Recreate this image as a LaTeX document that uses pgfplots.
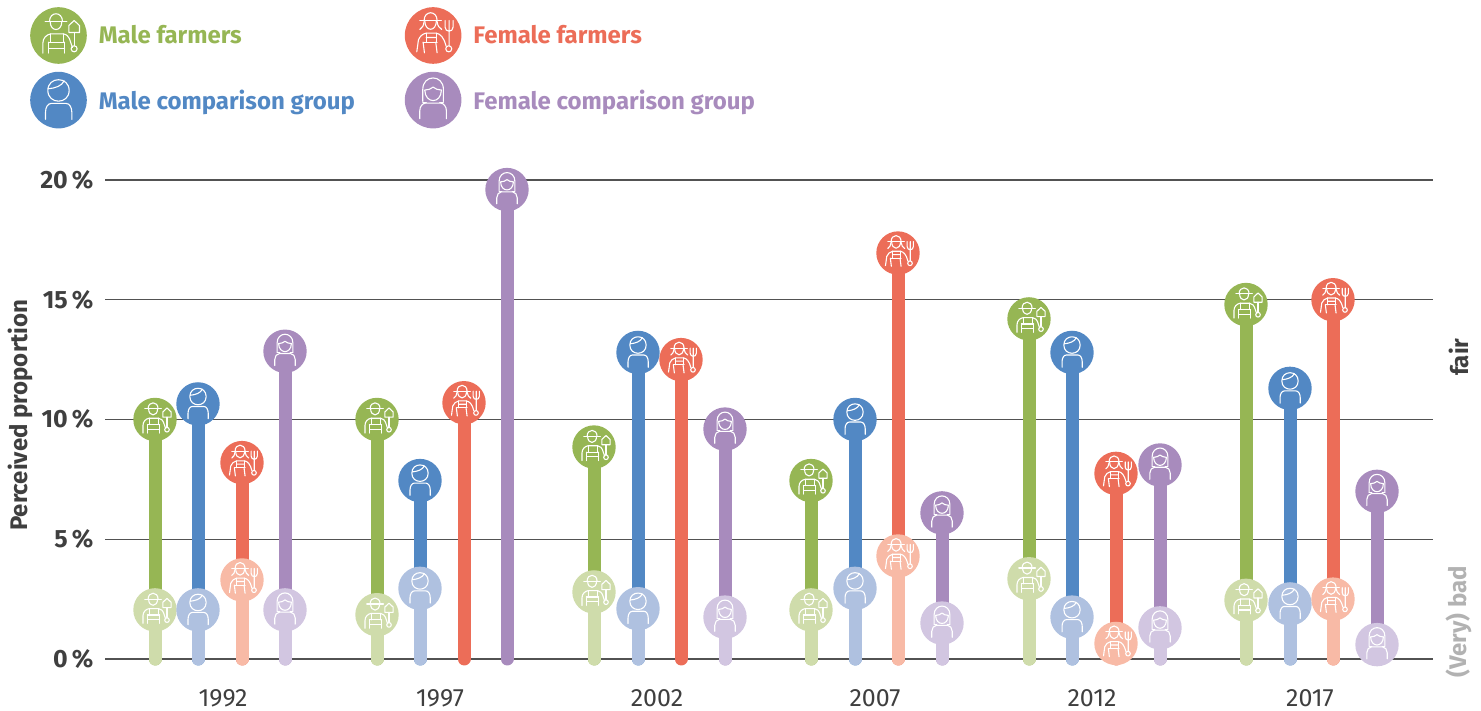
\documentclass[border=0pt]{standalone}
\usepackage{fontspec}
\setmainfont{Fira Sans}
\usepackage{pgfplots}
\pgfplotsset{compat=1.18}
\definecolor{mf}{HTML}{96B654}
\definecolor{mc}{HTML}{5288C4}
\definecolor{ff}{HTML}{EC6D58}
\definecolor{fc}{HTML}{A88BBD}
\definecolor{mfl}{HTML}{CFDCAB}
\definecolor{mcl}{HTML}{AFC1E0}
\definecolor{ffl}{HTML}{F8BAA6}
\definecolor{fcl}{HTML}{D2C6E1}
\definecolor{txt}{HTML}{3F3F3F}

% icon outlines, in units of a circle of radius 85
\newcommand{\grip}{
  \draw (38,-40) .. controls (38,-52) and (56,-52) .. (56,-40) .. controls (56,-28) and (38,-28) .. (38,-40);
}
\newcommand{\malefarmer}{
  \draw (-40,42)--(25,42);
  \draw (-27,42) .. controls (-27,73) and (12,73) .. (12,42);
  \draw (-25,42) .. controls (-25,10) and (10,10) .. (10,42);
  \draw (-47,-53)--(-47,-23) .. controls (-47,-8) and (-36,3) .. (-23,5)--(14,5) .. controls (26,3) and (30,-4) .. (33,-10) .. controls (37,-20) and (39,-30) .. (42,-36);
  \draw (-23,5)--(-23,-20) (14,5)--(14,-20) (-30,-20)--(18,-20);
  \draw (-29,-20)--(-29,-53) (18,-20)--(18,-53) (-29,-38)--(18,-38);
  \draw (47,45)--(63,30)--(63,9)--(31,9)--(31,30)--cycle;
  \draw (47,9)--(47,-30);
  \grip
}
\newcommand{\femalefarmer}{
  \draw (-40,45)--(25,45);
  \draw (-27,45) .. controls (-27,76) and (12,76) .. (12,45);
  \draw (-25,45) .. controls (-25,10) and (10,10) .. (10,45);
  \draw (-27,42) .. controls (-28,30) and (-33,22) .. (-40,18);
  \draw (12,42) .. controls (13,30) and (19,22) .. (26,18);
  \draw (-49,-49)--(-44,-13) .. controls (-40,-3) and (-32,5) .. (-21,7)--(9,7) .. controls (22,5) and (32,-5) .. (39,-32);
  \draw (-21,7)--(-21,-20) (9,7)--(9,-20) (-30,-20)--(12,-20);
  \draw (-30,-20)--(-26,-52) (8,-20)--(12,-52) (-21,-6)--(9,-6);
  \draw (36,45)--(36,25) .. controls (36,9) and (60,9) .. (60,25)--(60,45) (48,45)--(48,-30);
  \grip
}
\newcommand{\malecomp}{
  \draw (-32,29) .. controls (-32,72) and (32,72) .. (32,29) .. controls (32,-14) and (-32,-14) .. (-32,29);
  \draw (-30,34) .. controls (-10,36) and (10,42) .. (17,58);
  \draw (-39,-58)--(-39,-36) .. controls (-39,-22) and (-32,-10) .. (-22,-10)--(23,-10) .. controls (33,-10) and (40,-22) .. (40,-36)--(40,-58);
}
\newcommand{\femalecomp}{
  \draw (-31,-4)--(-31,32) .. controls (-31,78) and (31,78) .. (31,32)--(31,-4);
  \draw (-31,-6)--(-20,-6) (31,-6)--(20,-6);
  \draw (-25,30) .. controls (-15,30) and (-6,34) .. (0,39) .. controls (6,34) and (15,30) .. (25,30);
  \draw (-25,30) .. controls (-24,-12) and (24,-12) .. (25,30);
  \draw (-40,-56)--(-40,-32) .. controls (-40,-20) and (-32,-9) .. (-22,-9)--(22,-9) .. controls (32,-9) and (40,-20) .. (40,-32)--(40,-56);
}
% #1 mark name, #2 colour, #3 radius in px, #4 icon
\newcommand{\iconmark}[4]{%
  \pgfdeclareplotmark{#1}{%
    \pgfsetfillcolor{#2}%
    \pgfpathcircle{\pgfpointorigin}{#3pt}%
    \pgfusepath{fill}%
    \begin{scope}[x=#3pt/85,y=#3pt/85,white,line width=1.1pt,line cap=round,line join=round]
      #4
    \end{scope}
  }%
}
\iconmark{MF}{mf}{21.7}{\malefarmer}
\iconmark{MC}{mc}{21.7}{\malecomp}
\iconmark{FF}{ff}{21.7}{\femalefarmer}
\iconmark{FC}{fc}{21.7}{\femalecomp}
\iconmark{MFL}{mfl}{21.7}{\malefarmer}
\iconmark{MCL}{mcl}{21.7}{\malecomp}
\iconmark{FFL}{ffl}{21.7}{\femalefarmer}
\iconmark{FCL}{fcl}{21.7}{\femalecomp}
% legend versions
\iconmark{MFB}{mf}{28.3}{\malefarmer}
\iconmark{MCB}{mc}{28.3}{\malecomp}
\iconmark{FFB}{ff}{28.3}{\femalefarmer}
\iconmark{FCB}{fc}{28.3}{\femalecomp}

\pgfplotsset{
  stem/.style n args={3}{ycomb,color=#1,line width=13pt,line cap=round,mark=#2,
    legend image code/.code={\pgfuseplotmark{#3}}},
  lightstem/.style n args={2}{ycomb,color=#1,line width=13pt,line cap=round,mark=#2,forget plot},
}

\begin{document}
\begin{tikzpicture}[x=1pt,y=1pt]
\path (0,0) rectangle (1481,711);
\begin{axis}[
    at={(105pt,52pt)},
    anchor=origin,
    scale only axis,
    width=1328pt,
    height=479pt,
    xmin=105, xmax=1433,
    ymin=0, ymax=20,
    clip=false,
    axis line style={draw=none},
    major tick style={draw=none},
    ymajorgrids=true,
    grid style={color=black!68,line width=1.4pt},
    ytick={0,5,10,15,20},
    yticklabels={0\,\%,5\,\%,10\,\%,15\,\%,20\,\%},
    yticklabel style={font=\fontsize{25}{29}\selectfont\bfseries,text=txt,xshift=-8pt},
    ytick pos=left,
    xtick={223,440,657,875,1092,1310},
    xticklabels={1992,1997,2002,2007,2012,2017},
    xticklabel style={font=\fontsize{25}{29}\selectfont,text=txt,yshift=-27pt},
    ylabel={Perceived proportion},
    ylabel style={font=\fontsize{24}{28}\selectfont\bfseries,text=txt,at={(rel axis cs:-0.064,0.509)},anchor=center},
    legend columns=2,
    legend cell align=left,
    legend style={draw=none,fill=none,anchor=north west,
      font=\fontsize{24}{29}\selectfont\bfseries,row sep=8pt,inner sep=0pt,
      /tikz/column 1/.style={column sep=10pt},
      /tikz/column 2/.style={column sep=48pt},
      /tikz/column 3/.style={column sep=10pt},
      at={(-75pt,652pt)}},
]
\addplot[stem={mf}{MF}{MFB}] coordinates {(155,10.0) (377,10.0) (594,8.85) (811,7.45) (1029,14.2) (1246,14.8)};
\addlegendentry{\textcolor{mf}{Male farmers}}
\addplot[stem={ff}{FF}{FFB}] coordinates {(242,8.2) (464,10.7) (681,12.5) (898,16.95) (1116,7.75) (1333,15.0)};
\addlegendentry{\textcolor{ff}{Female farmers}}
\addplot[stem={mc}{MC}{MCB}] coordinates {(198,10.65) (420,7.45) (638,12.8) (855,10.0) (1072,12.8) (1290,11.3)};
\addlegendentry{\textcolor{mc}{Male comparison group}}
\addplot[stem={fc}{FC}{FCB}] coordinates {(285,12.85) (507,19.6) (725,9.6) (942,6.1) (1160,8.1) (1377,7.0)};
\addlegendentry{\textcolor{fc}{Female comparison group}}

\addplot[lightstem={mfl}{MFL}] coordinates {(155,2.05) (377,1.85) (594,2.8) (811,2.05) (1029,3.35) (1246,2.45)};
\addplot[lightstem={mcl}{MCL}] coordinates {(198,2.05) (420,2.95) (638,2.1) (855,2.95) (1072,1.75) (1290,2.3)};
\addplot[lightstem={ffl}{FFL}] coordinates {(242,3.3) (898,4.3) (1116,0.65) (1333,2.5)};
\addplot[lightstem={fcl}{FCL}] coordinates {(285,2.05) (725,1.75) (942,1.5) (1160,1.3) (1377,0.6)};

\node[rotate=90,font=\fontsize{24}{28}\selectfont\bfseries,text=txt] at (axis cs:1459,12.6) {fair};
\node[rotate=90,font=\fontsize{24}{28}\selectfont\bfseries,text=black!30] at (axis cs:1459,1.55) {(Very) bad};
\end{axis}
\end{tikzpicture}
\end{document}
